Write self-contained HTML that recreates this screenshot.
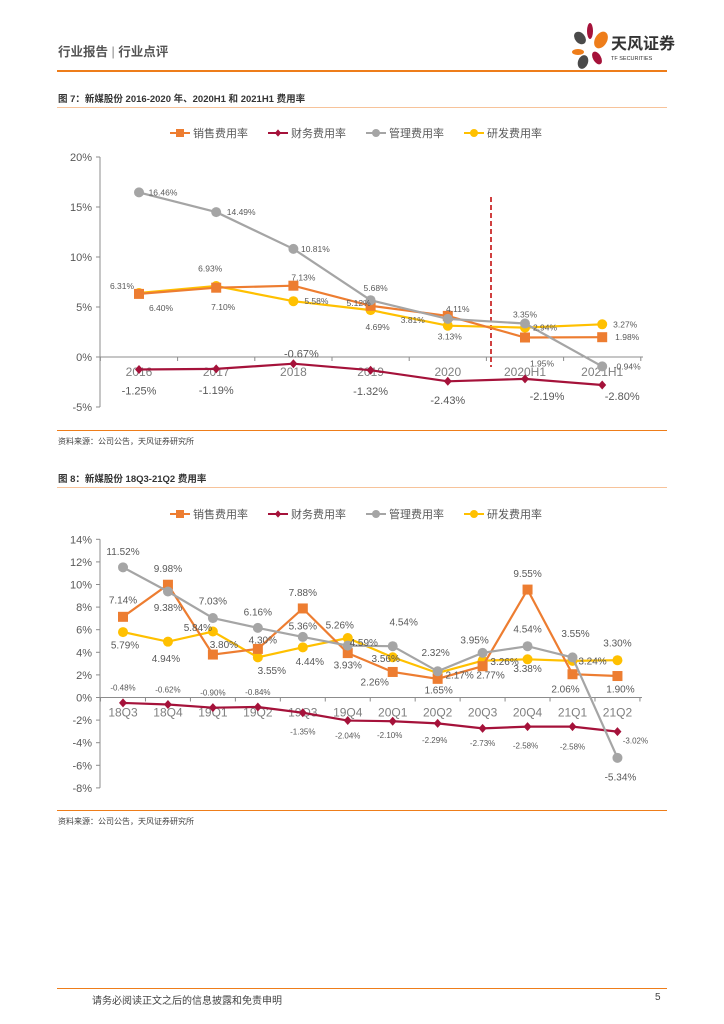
<!DOCTYPE html>
<html><head><meta charset="utf-8">
<style>
body{margin:0;background:#fff;font-family:"Liberation Sans","Noto Sans CJK SC",sans-serif;}
#page{position:relative;width:724px;height:1024px;overflow:hidden;background:#fff;}
.abs{position:absolute;}
</style></head>
<body>
<div id="page">
<div class="abs" style="left:58px;top:41px;font-size:12.5px;color:#555;font-weight:bold;">行业报告 <span style="font-weight:normal;color:#888">|</span> 行业点评</div>
<svg class="abs" style="left:565px;top:22px" width="110" height="48">
<ellipse cx="15" cy="16" rx="5" ry="7" fill="#4a4a4a" transform="rotate(-40 15 16)"/>
<ellipse cx="25" cy="9" rx="3" ry="8" fill="#a5123a"/>
<ellipse cx="36" cy="18" rx="6" ry="9" fill="#ee7d1a" transform="rotate(30 36 18)"/>
<ellipse cx="13" cy="30" rx="6" ry="3" fill="#ee7d1a"/>
<ellipse cx="18" cy="40" rx="5" ry="7" fill="#4a4a4a" transform="rotate(20 18 40)"/>
<ellipse cx="32" cy="36" rx="4" ry="7" fill="#a5123a" transform="rotate(-30 32 36)"/>
<text x="46" y="27" font-size="16" font-weight="bold" fill="#333" font-family="Liberation Sans,Noto Sans CJK SC,sans-serif">天风证券</text>
<text x="46" y="38" font-size="5.5" fill="#333" font-family="Liberation Sans,sans-serif">TF SECURITIES</text>
</svg>
<div class="abs" style="left:57px;top:70px;width:610px;height:2px;background:#ee7d1a"></div>

<div class="abs" style="left:58px;top:91px;font-size:9.5px;font-weight:bold;color:#333">图 7：新媒股份 2016-2020 年、2020H1 和 2021H1 费用率</div>
<div class="abs" style="left:57px;top:107px;width:610px;height:1px;background:#f7c39a"></div>
<div class="abs" style="left:57px;top:430px;width:610px;height:1px;background:#ee7d1a"></div>
<div class="abs" style="left:58px;top:436px;font-size:8px;color:#444">资料来源：公司公告，天风证券研究所</div>

<div class="abs" style="left:58px;top:471px;font-size:9.5px;font-weight:bold;color:#333">图 8：新媒股份 18Q3-21Q2 费用率</div>
<div class="abs" style="left:57px;top:487px;width:610px;height:1px;background:#f7c39a"></div>
<div class="abs" style="left:57px;top:810px;width:610px;height:1px;background:#ee7d1a"></div>
<div class="abs" style="left:58px;top:816px;font-size:8px;color:#444">资料来源：公司公告，天风证券研究所</div>

<div class="abs" style="left:57px;top:988px;width:610px;height:1px;background:#ee7d1a"></div>
<div class="abs" style="left:92px;top:992px;font-size:10px;color:#444">请务必阅读正文之后的信息披露和免责申明</div>
<div class="abs" style="left:655px;top:992px;font-size:10px;color:#444">5</div>

<svg id="chart1" class="abs" style="left:0;top:110px" width="724" height="320"></svg>
<svg id="chart2" class="abs" style="left:0;top:490px" width="724" height="320"></svg>
</div>
<script>
// ---- Chart 1 data ----
const c1Categories = ["2016","2017","2018","2019","2020","2020H1","2021H1"];
const c1Sales   = [6.31, 6.93, 7.13, 5.12, 4.11, 1.95, 1.98];
const c1Finance = [-1.25, -1.19, -0.67, -1.32, -2.43, -2.19, -2.80];
const c1Admin   = [16.46, 14.49, 10.81, 5.68, 3.81, 3.35, -0.94];
const c1RnD     = [6.40, 7.10, 5.58, 4.69, 3.13, 2.94, 3.27];
const c1Ticks   = [20, 15, 10, 5, 0, -5];
// ---- Chart 2 data ----
const c2Categories = ["18Q3","18Q4","19Q1","19Q2","19Q3","19Q4","20Q1","20Q2","20Q3","20Q4","21Q1","21Q2"];
const c2Sales   = [7.14, 9.98, 3.80, 4.30, 7.88, 3.93, 2.26, 1.65, 2.77, 9.55, 2.06, 1.90];
const c2Finance = [-0.48, -0.62, -0.90, -0.84, -1.35, -2.04, -2.10, -2.29, -2.73, -2.58, -2.58, -3.02];
const c2Admin   = [11.52, 9.38, 7.03, 6.16, 5.36, 4.59, 4.54, 2.32, 3.95, 4.54, 3.55, -5.34];
const c2RnD     = [5.79, 4.94, 5.84, 3.55, 4.44, 5.26, 3.56, 2.17, 3.26, 3.38, 3.24, 3.30];
const c2Ticks   = [14, 12, 10, 8, 6, 4, 2, 0, -2, -4, -6, -8];
const seriesNames = ["销售费用率","财务费用率","管理费用率","研发费用率"];

// label offsets (layout only)
const c1Off = {
 sales:[[-17,-8],[-6,-19],[10,-8],[-12,-3],[10,-7],[17,26],[25,0]],
 fin:[[0,21],[0,21],[8,-10],[0,21],[0,19],[22,17],[20,11]],
 adm:[[24,0],[25,0],[22,0],[5,-12],[-35,1],[0,-9],[25,0]],
 rnd:[[22,15],[7,21],[23,0],[7,17],[2,11],[20,0],[23,0]]
};
const c2Off = {
 sales:[[0,-17],[0,-16],[11,-10],[5,-9],[0,-16],[0,12],[-18,10],[1,11],[8,9],[0,-16],[-7,15],[3,13]],
 fin:[[0,-15],[0,-15],[0,-15],[0,-15],[0,19],[0,15],[-3,14],[-3,17],[0,15],[-2,19],[0,20],[18,9]],
 adm:[[0,-16],[0,16],[0,-17],[0,-16],[0,-11],[16,-3],[11,-24],[-2,-19],[-8,-13],[0,-17],[3,-24],[3,19]],
 rnd:[[2,13],[-2,17],[-15,-4],[14,13],[7,14],[-8,-13],[-7,1],[22,2],[22,1],[0,9],[20,0],[0,-17]]
};
const colors = {sales:"#ED7D31", fin:"#A5123A", adm:"#A5A5A5", rnd:"#FFC000"};
const NS="http://www.w3.org/2000/svg";
function mk(p,tag,attrs){const e=document.createElementNS(NS,tag);for(const k in attrs)e.setAttribute(k,attrs[k]);p.appendChild(e);return e;}

function drawChart(svg, cfg){
  const yScale=v=>cfg.y0 - v*cfg.ppu;
  const xScale=i=>cfg.x0 + i*cfg.step;
  // legend
  const keys=["sales","fin","adm","rnd"];
  keys.forEach((k,i)=>{
    const lx=cfg.legX[i], ly=cfg.legY;
    const g=mk(svg,"g",{});
    
    
    mk(g,"line",{x1:lx,y1:ly,x2:lx+20,y2:ly,stroke:colors[k],"stroke-width":2});
    marker(g,k,lx+10,ly,0.8);
    const t=mk(g,"text",{x:lx+23,y:ly+4,"font-size":11,fill:"#595959"});t.textContent=seriesNames[i];
  });
  // y axis
  const ya=mk(svg,"line",{x1:cfg.axX,y1:yScale(cfg.ticks[0]),x2:cfg.axX,y2:yScale(cfg.ticks[cfg.ticks.length-1]),stroke:"#8c8c8c","stroke-width":1});
  
  
  cfg.ticks.forEach(v=>{
    mk(svg,"line",{x1:cfg.axX-4,y1:yScale(v),x2:cfg.axX,y2:yScale(v),stroke:"#8c8c8c"});
    const t=mk(svg,"text",{x:cfg.axX-8,y:yScale(v)+4,"font-size":11,fill:"#595959","text-anchor":"end"});
    
    
    t.textContent=v+"%";
  });
  // x axis
  const xa=mk(svg,"line",{x1:cfg.axX,y1:yScale(0),x2:cfg.axEnd,y2:yScale(0),stroke:"#8c8c8c"});
  
  
  for(let i=0;i<=cfg.cats.length;i++){const tx=xScale(i-0.5);mk(svg,"line",{x1:tx,y1:yScale(0),x2:tx,y2:yScale(0)+4,stroke:"#8c8c8c"});}
  cfg.cats.forEach((c,i)=>{
    const t=mk(svg,"text",{x:xScale(i),y:yScale(0)+cfg.catDy,"font-size":12,fill:"#7f7f7f","text-anchor":"middle"});
    
    
    t.textContent=c;
  });
  if(cfg.dash){const d=mk(svg,"line",{x1:cfg.dash,y1:yScale(16),x2:cfg.dash,y2:yScale(-1),stroke:"#C00000","stroke-width":1.5,"stroke-dasharray":"5,3"});
    
    }
  // series
  const order=["fin","rnd","sales","adm"];
  order.forEach(k=>{
    const vals=cfg.data[k];
    const pts=vals.map((v,i)=>xScale(i)+","+yScale(v)).join(" ");
    const pl=mk(svg,"polyline",{points:pts,fill:"none",stroke:colors[k],"stroke-width":2.2});
    
    
    vals.forEach((v,i)=>{
      const g=mk(svg,"g",{});
      
      
      marker(g,k,xScale(i),yScale(v),1);
    });
  });
  order.forEach(k=>{
    cfg.data[k].forEach((v,i)=>{
      const o=cfg.off[k][i];
      const fs=(k==="fin")?cfg.finFs:cfg.fs;
      const t=mk(svg,"text",{x:xScale(i)+o[0],y:yScale(v)+o[1]+fs*0.35,"font-size":fs,fill:"#595959","text-anchor":"middle"});
      
      
      t.textContent=v.toFixed(2)+"%";
    });
  });
}
function marker(g,k,x,y,s){
  const c=colors[k];
  if(k==="sales") mk(g,"rect",{x:x-5*s,y:y-5*s,width:10*s,height:10*s,fill:c});
  else if(k==="fin") mk(g,"polygon",{points:`${x},${y-4.5*s} ${x+4*s},${y} ${x},${y+4.5*s} ${x-4*s},${y}`,fill:c});
  else mk(g,"circle",{cx:x,cy:y,r:5*s,fill:c});
}
drawChart(document.getElementById("chart1"),{
  x0:139,step:77.2,y0:247,ppu:10,axX:100,axEnd:643,ticks:c1Ticks,cats:c1Categories,catDy:19,dash:491,
  legX:[170,268,366,464],legY:23,fs:8.5,finFs:11,
  data:{sales:c1Sales,fin:c1Finance,adm:c1Admin,rnd:c1RnD},off:c1Off
});
drawChart(document.getElementById("chart2"),{
  x0:123,step:44.95,y0:207.5,ppu:11.3,axX:100,axEnd:642,ticks:c2Ticks,cats:c2Categories,catDy:19,dash:null,
  legX:[170,268,366,464],legY:24,fs:10,finFs:8,
  data:{sales:c2Sales,fin:c2Finance,adm:c2Admin,rnd:c2RnD},off:c2Off
});
</script>
</body></html>
